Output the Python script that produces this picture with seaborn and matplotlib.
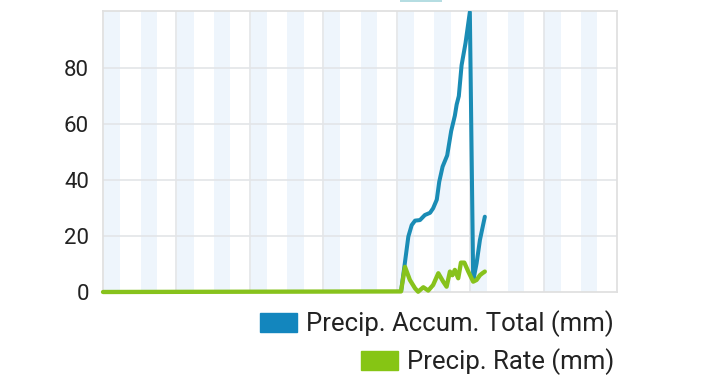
import matplotlib
matplotlib.use("Agg")
import matplotlib.pyplot as plt
from matplotlib.patches import Rectangle
import seaborn as sns
import pandas as pd

# ---- data (hours from start of 7-day window) ----
accum_hours = [0, 97.4, 98.5, 99.8, 100.9, 102.0, 103.6, 105.2, 106.9, 107.9,
               109.1, 109.9, 111.0, 112.5, 113.8, 115.0, 115.6, 116.3, 117.2,
               118.5, 119.9, 121.0, 122.1, 123.2, 124.8]
accum_mm = [0, 0, 9, 19.8, 23.9, 25.5, 25.7, 27.5, 28.3, 29.9,
            33.0, 39.4, 44.8, 48.8, 57.5, 63.0, 67.0, 70.0, 81.0,
            89.0, 100.0, 4.0, 10.2, 18.6, 26.9]

rate_hours = [0, 97.4, 98.7, 100.3, 102.0, 103.0, 104.7, 106.3, 107.9, 109.6,
              111.2, 112.3, 113.4, 114.2, 115.0, 116.1, 117.0, 118.1, 119.4,
              121.0, 122.1, 123.2, 124.0, 124.8]
rate_mm = [0, 0.2, 9.0, 4.3, 1.3, 0.1, 1.7, 0.5, 2.5, 6.7,
           3.7, 1.9, 7.3, 6.0, 7.9, 4.9, 10.5, 10.5, 7.3,
           3.7, 4.3, 6.0, 6.7, 7.3]

y_ticks = [0, 20, 40, 60, 80]
n_days = 7
series_names = ["Precip. Accum. Total (mm)", "Precip. Rate (mm)"]

BLUE = "#1A8CB5"
GREEN = "#87C21C"
BLUE_LEG = "#1386BE"
GREEN_LEG = "#86C514"

sns.set_style("white")
plt.rcParams["font.family"] = ["Roboto", "DejaVu Sans"]

fig = plt.figure(figsize=(7.2, 3.82), dpi=100)
ax = fig.add_axes([103 / 720, 1 - 292 / 382, 514 / 720, 281 / 382])

# background half-day bands
for k in range(n_days * 2):
    ax.axvspan(12 * k + 0.3, 12 * k + 5.6, color="#EEF5FC", lw=0, zorder=0)

# grid
for d in range(1, n_days):
    ax.axvline(24 * d, color="#E3E5E8", lw=1.2, zorder=1)
for t in y_ticks[1:]:
    ax.axhline(t, color="#E3E5E8", lw=1.2, zorder=1)

df_a = pd.DataFrame({"h": accum_hours, "v": accum_mm})
df_r = pd.DataFrame({"h": rate_hours, "v": rate_mm})
sns.lineplot(data=df_a, x="h", y="v", ax=ax, color=BLUE, lw=2.9,
             sort=False, estimator=None, zorder=3)
sns.lineplot(data=df_r, x="h", y="v", ax=ax, color=GREEN, lw=3.1,
             sort=False, estimator=None, zorder=4, clip_on=False)

ax.set_xlim(0, 24 * n_days)
ax.set_ylim(0, 100.4)
ax.set_xticks([])
ax.set_yticks(y_ticks)
ax.set_yticklabels([str(t) for t in y_ticks], fontsize=16, color="#222222")
ax.tick_params(axis="y", length=0, pad=10)
ax.set_xlabel("")
ax.set_ylabel("")
for s in ax.spines.values():
    s.set_color("#E0E0E0")
    s.set_linewidth(1.3)

# legend (right aligned, two rows)
handles = [Rectangle((0, 0), 1, 1, color=BLUE_LEG),
           Rectangle((0, 0), 1, 1, color=GREEN_LEG)]
for i, (h, name) in enumerate(zip(handles, series_names)):
    fig.legend([h], [name], loc="center right",
               bbox_to_anchor=(614 / 720, 1 - (324 + i * 38) / 382),
               frameon=False, fontsize=18.5, handlelength=1.45, handleheight=0.72,
               handletextpad=0.35, borderpad=0, borderaxespad=0,
               labelcolor="#222222")

# cut-off element at top edge
fig.patches.append(Rectangle((400 / 720, 1 - 2 / 382), 42 / 720, 2 / 382,
                             transform=fig.transFigure, color="#B5DDE2", lw=0))

fig.savefig("out.png", dpi=100)
